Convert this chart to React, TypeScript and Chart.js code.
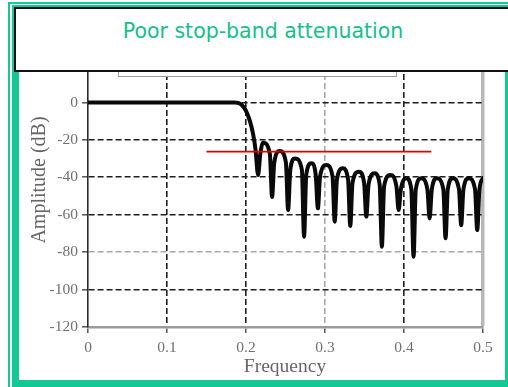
import React, { useEffect, useRef } from 'react';
import { Chart, registerables } from 'chart.js';

Chart.register(...registerables);

// Filter magnitude response (frequency, amplitude in dB):
// pass band, transition, then side lobes (shoulder, null, shoulder, peak ...)
const responseFreq = [
  0, 0.185, 0.19, 0.195, 0.2, 0.205, 0.209, 0.212,
  0.2153, 0.2181, 0.2216,
  0.2302, 0.233, 0.2358, 0.2427,
  0.2505, 0.2533, 0.2561, 0.262,
  0.2707, 0.2735, 0.2763, 0.2828,
  0.2882, 0.291, 0.2938, 0.3017,
  0.3095, 0.3123, 0.3151, 0.3227,
  0.3292, 0.332, 0.3348, 0.343,
  0.3495, 0.3523, 0.3551, 0.3628,
  0.3692, 0.372, 0.3748, 0.3827,
  0.3904, 0.3932, 0.396, 0.4029,
  0.4093, 0.4121, 0.4149, 0.4219,
  0.4296, 0.4324, 0.4352, 0.4416,
  0.4498, 0.4526, 0.4554, 0.4618,
  0.4696, 0.4724, 0.4752, 0.482,
  0.4899, 0.4927, 0.4955, 0.5,
];
const responseDb = [
  0, 0, -0.3, -1.5, -4.5, -10, -17, -25,
  -38.8, -27.5, -21.5,
  -27.5, -50.5, -32, -26,
  -32, -57.5, -35.9, -29.9,
  -35.9, -71.8, -38.5, -32.5,
  -38.5, -56.6, -39.4, -33.4,
  -39.4, -63.7, -41.2, -35.2,
  -41.2, -66, -43, -37,
  -43, -61, -43.9, -37.9,
  -43.9, -77.1, -44.8, -38.8,
  -44.8, -57.5, -46.5, -40.5,
  -46.5, -82.5, -46.5, -40.5,
  -46.5, -62, -46.5, -40.5,
  -46.5, -72.6, -46.5, -40.5,
  -46.5, -65.5, -46.5, -40.5,
  -46.5, -68.2, -46.5, -40.4,
];

// Red reference line
const redLineFreq = [0.15, 0.4345];
const redLineDb = [-26.3, -26.3];

// Axis ticks
const xTicks = [0, 0.1, 0.2, 0.3, 0.4, 0.5];
const yTicks = [20, 0, -20, -40, -60, -80, -100, -120];

const titleText = 'Poor stop-band attenuation';
const xTitle = 'Frequency';
const yTitle = 'Amplitude (dB)';

const GREEN = '#12c993';

export default function App() {
  const canvasRef = useRef<HTMLCanvasElement | null>(null);

  useEffect(() => {
    const canvas = canvasRef.current;
    if (!canvas) return;
    const response = responseFreq.map((f, i) => ({ x: f, y: responseDb[i] }));
    const red = redLineFreq.map((f, i) => ({ x: f, y: redLineDb[i] }));

    const chart = new Chart(canvas, {
      type: 'line',
      data: {
        datasets: [
          {
            data: red,
            borderColor: '#e00000',
            borderWidth: 1.6,
            pointRadius: 0,
            tension: 0,
            order: 0,
          },
          {
            data: response,
            borderColor: '#0a0a0a',
            borderWidth: 4,
            pointRadius: 0,
            cubicInterpolationMode: 'monotone',
            borderJoinStyle: 'round',
            borderCapStyle: 'round',
            order: 1,
          },
        ],
      },
      options: {
        animation: false,
        responsive: false,
        devicePixelRatio: 1,
        layout: { padding: { top: 25, right: 21, left: 0, bottom: 0 } },
        plugins: { legend: { display: false }, tooltip: { enabled: false } },
        scales: {
          x: {
            type: 'linear',
            min: 0,
            max: 0.5,
            afterBuildTicks: (s: any) => {
              s.ticks = xTicks.map((v) => ({ value: v }));
            },
            afterFit: (s: any) => {
              s.height = 53;
            },
            ticks: {
              color: '#707070',
              font: { family: 'Liberation Serif', size: 15.5 },
              padding: 6,
              maxRotation: 0,
              autoSkip: false,
              callback: (v: any) => String(v),
            },
            grid: {
              color: (ctx: any) => {
                const v = ctx.tick ? ctx.tick.value : null;
                if (v === 0) return 'rgba(0,0,0,0)';
                if (v === 0.5) return '#b8b8b8';
                if (v === 0.3) return '#a8a8a8';
                return '#1e1e1e';
              },
              lineWidth: (ctx: any) => (ctx.tick && ctx.tick.value === 0.5 ? 3.5 : 1.6),
              tickColor: '#555',
              tickLength: 6,
              tickWidth: 1.5,
            },
            border: {
              color: '#9a9a9a',
              width: 2.5,
              dash: (ctx: any) => (ctx.tick && ctx.tick.value < 0.45 ? [6, 3] : []),
            },
          },
          y: {
            type: 'linear',
            min: -120,
            max: 20,
            afterBuildTicks: (s: any) => {
              s.ticks = yTicks.map((v) => ({ value: v }));
            },
            afterFit: (s: any) => {
              s.width = 68;
            },
            ticks: {
              color: '#707070',
              font: { family: 'Liberation Serif', size: 15.5 },
              padding: 4,
              autoSkip: false,
              callback: (v: any) => (v === 20 ? '' : String(v)),
            },
            grid: {
              color: (ctx: any) => {
                const v = ctx.tick ? ctx.tick.value : null;
                if (v === 20 || v === -120) return 'rgba(0,0,0,0)';
                if (v === -80) return '#a8a8a8';
                return '#1e1e1e';
              },
              lineWidth: 1.6,
              tickColor: '#555',
              tickLength: 6,
              tickWidth: 1.5,
            },
            border: {
              color: '#2a2a2a',
              width: 1.6,
              dash: (ctx: any) => (ctx.tick ? [6, 3] : []),
            },
          },
        },
      },
    });
    return () => chart.destroy();
  }, []);

  return (
    <div
      style={{
        position: 'fixed',
        left: 0,
        top: 0,
        width: 508,
        height: 387,
        background: '#fff',
        overflow: 'hidden',
      }}
    >
      {/* outer thin green lines */}
      <div style={{ position: 'absolute', left: 8, top: 2, width: 2, height: 385, background: GREEN }} />
      <div style={{ position: 'absolute', left: 8, top: 2, width: 500, height: 2, background: GREEN }} />
      {/* inner green frame */}
      <div
        style={{
          position: 'absolute',
          left: 12,
          top: 5,
          width: 496,
          height: 382,
          boxSizing: 'border-box',
          borderTop: `2px solid ${GREEN}`,
          borderLeft: `7px solid ${GREEN}`,
          borderRight: `3px solid ${GREEN}`,
          borderBottom: `7px solid ${GREEN}`,
        }}
      />
      <canvas
        ref={canvasRef}
        width={484}
        height={340}
        style={{ position: 'absolute', left: 20, top: 40, width: 484, height: 340 }}
      />
      {/* remnant of the figure's legend box */}
      <div
        style={{
          position: 'absolute',
          left: 118,
          top: 60,
          width: 279,
          height: 17,
          boxSizing: 'border-box',
          border: '1px solid #9a9a9a',
          background: '#fff',
        }}
      />
      {/* title box */}
      <div
        style={{
          position: 'absolute',
          left: 14,
          top: 7,
          width: 510,
          height: 65,
          boxSizing: 'border-box',
          border: '2px solid #111',
          background: '#fff',
        }}
      />
      <div
        style={{
          position: 'absolute',
          left: 14,
          top: 17,
          width: 498,
          height: 28,
          lineHeight: '28px',
          textAlign: 'center',
          fontFamily: '"DejaVu Sans", sans-serif',
          fontSize: 20.5,
          color: '#15c08c',
          whiteSpace: 'nowrap',
        }}
      >
        {titleText}
      </div>
      {/* axis titles */}
      <div
        style={{
          position: 'absolute',
          left: 185,
          top: 354,
          width: 200,
          height: 24,
          lineHeight: '24px',
          textAlign: 'center',
          fontFamily: '"Liberation Serif", serif',
          fontSize: 19.5,
          color: '#666',
          whiteSpace: 'nowrap',
        }}
      >
        {xTitle}
      </div>
      <div
        style={{
          position: 'absolute',
          left: 38 - 100,
          top: 180 - 12,
          width: 200,
          height: 24,
          lineHeight: '24px',
          textAlign: 'center',
          fontFamily: '"Liberation Serif", serif',
          fontSize: 20,
          color: '#666',
          whiteSpace: 'nowrap',
          transform: 'rotate(-90deg)',
          transformOrigin: '100px 12px',
        }}
      >
        {yTitle}
      </div>
    </div>
  );
}
